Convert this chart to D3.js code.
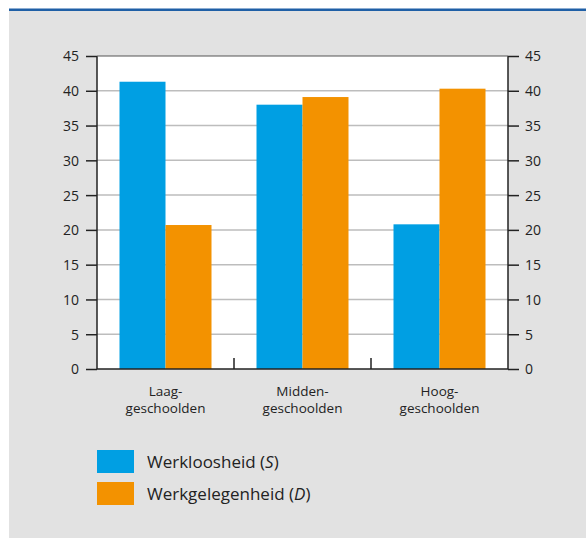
<!DOCTYPE html>
<html><head><meta charset="utf-8">
<script src="https://cdn.jsdelivr.net/npm/d3@7"></script>
<style>
html,body{margin:0;padding:0;background:#fff;}
svg{display:block;}
text{font-family:"Open Sans","Noto Sans",sans-serif;fill:#222;}
</style></head>
<body>
<script>
const categories = [["Laag-","geschoolden"],["Midden-","geschoolden"],["Hoog-","geschoolden"]];
const seriesNames = ["Werkloosheid", "Werkgelegenheid"];
const seriesSymbols = ["S", "D"];
const werkloosheid = [41.3, 38.0, 20.8];
const werkgelegenheid = [20.7, 39.1, 40.3];
const yTicks = [0,5,10,15,20,25,30,35,40,45];
const colors = ["#009fe3", "#f39200"];

const W = 586, H = 538;
const svg = d3.select("body").append("svg").attr("width", W).attr("height", H);

// background
svg.append("rect").attr("x",9).attr("y",10).attr("width",W-9).attr("height",H-10).attr("fill","#e2e2e2");
svg.append("rect").attr("x",9).attr("y",8.5).attr("width",W-9).attr("height",2.5).attr("fill","#1f5fa6");

const x0 = 97, x1 = 508, yTop = 56, yBot = 369;
const x = d3.scaleBand().domain(d3.range(categories.length)).range([x0, x1]).paddingInner(0).paddingOuter(0);
const y = d3.scaleLinear().domain([0,45]).range([yBot, yTop]);
const xs = d3.scaleBand().domain([0,1]).range([22.5, x.bandwidth()-22.5]);

svg.append("rect").attr("x",x0).attr("y",yTop).attr("width",x1-x0).attr("height",yBot-yTop).attr("fill","#fff");

// gridlines
svg.append("g").selectAll("line").data(yTicks.filter(t=>t>0 && t<45)).join("line")
  .attr("x1",x0).attr("x2",x1).attr("y1",d=>y(d)).attr("y2",d=>y(d))
  .attr("stroke","#bdbdbd").attr("stroke-width",1.5);

// bars
const data = [werkloosheid, werkgelegenheid];
data.forEach((vals, s) => {
  svg.append("g").selectAll("rect").data(vals).join("rect")
    .attr("x",(d,i)=>x(i)+xs(s)).attr("width",xs.bandwidth())
    .attr("y",d=>y(d)).attr("height",d=>yBot-y(d)).attr("fill",colors[s]);
});

// axes
const left = svg.append("g").attr("transform",`translate(${x0},0)`)
  .call(d3.axisLeft(y).tickValues(yTicks).tickSize(11).tickPadding(7));
const right = svg.append("g").attr("transform",`translate(${x1},0)`)
  .call(d3.axisRight(y).tickValues(yTicks).tickSize(11).tickPadding(6));
[left,right].forEach(g=>{
  g.select(".domain").attr("stroke","#222").attr("stroke-width",1.5).attr("d",`M0,${yTop}V${yBot}`);
  g.selectAll(".tick line").attr("stroke","#222").attr("stroke-width",1.5);
  g.selectAll(".tick text").style("font-size","14px").attr("fill","#222").attr("dy","0.35em");
});
// top and bottom lines
svg.append("line").attr("x1",x0).attr("x2",x1).attr("y1",yTop).attr("y2",yTop).attr("stroke","#555").attr("stroke-width",1.2);
svg.append("line").attr("x1",x0).attr("x2",x1).attr("y1",yBot).attr("y2",yBot).attr("stroke","#222").attr("stroke-width",1.5);

// category separators
svg.append("g").selectAll("line").data(d3.range(1,categories.length)).join("line")
  .attr("x1",d=>x(d)).attr("x2",d=>x(d)).attr("y1",yBot).attr("y2",yBot-11)
  .attr("stroke","#222").attr("stroke-width",1.5);

// category labels (one text element per line)
const labelLines = [];
categories.forEach((lines, i) => lines.forEach((t, j) => labelLines.push({i, j, t})));
svg.append("g").selectAll("text").data(labelLines).join("text")
  .attr("x",d=>x(d.i)+x.bandwidth()/2).attr("y",d=>395.5+d.j*17)
  .attr("text-anchor","middle").style("font-size","13.5px").text(d=>d.t);

// legend
const lg = svg.append("g").selectAll("g").data(seriesNames).join("g")
  .attr("transform",(d,i)=>`translate(97,${450+i*32})`);
lg.append("rect").attr("width",37).attr("height",23).attr("fill",(d,i)=>colors[i]);
const lt = lg.append("text").attr("x",50).attr("y",18).style("font-size",17);
lt.append("tspan").text(d=>d+" (");
lt.append("tspan").style("font-style","italic").text((d,i)=>seriesSymbols[i]);
lt.append("tspan").text(")");
</script>
</body></html>
